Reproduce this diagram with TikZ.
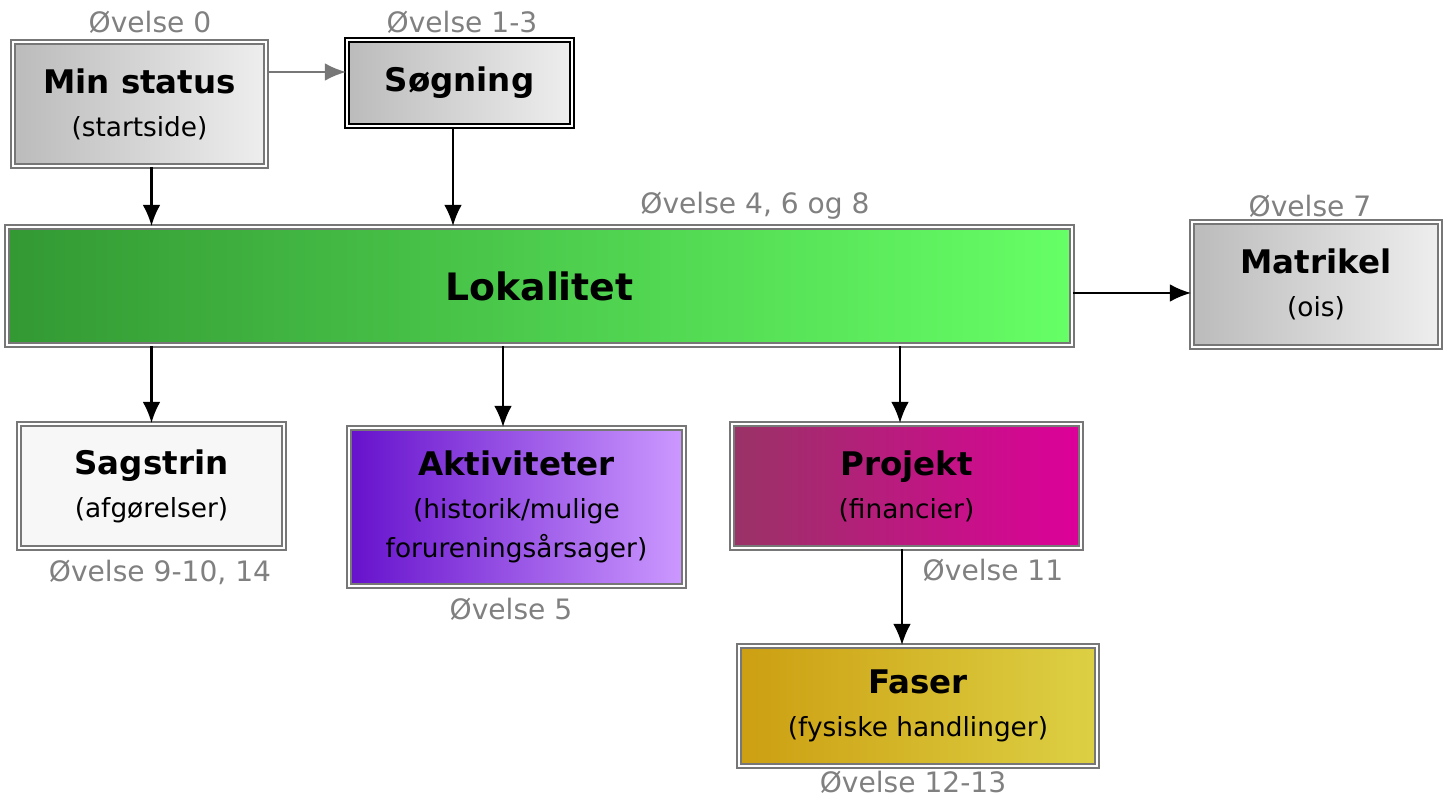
\documentclass[tikz,border=0pt]{standalone}
\usepackage{fontspec}
\setmainfont{DejaVu Sans}
\usetikzlibrary{positioning,arrows.meta}

\definecolor{rimgray}{HTML}{777777}
\definecolor{lblgray}{HTML}{808080}
\definecolor{greyL}{HTML}{BBBBBB}
\definecolor{greyR}{HTML}{EEEEEE}
\definecolor{lokL}{HTML}{339933}
\definecolor{lokR}{HTML}{66FF66}
\definecolor{aktL}{HTML}{6611CC}
\definecolor{aktR}{HTML}{CC99FF}
\definecolor{projL}{HTML}{993366}
\definecolor{projR}{HTML}{DD0099}
\definecolor{fasL}{HTML}{CC9F11}
\definecolor{fasR}{HTML}{DDD044}

\newcommand{\boxtitle}[1]{{\bfseries\fontsize{18.5}{23}\selectfont #1}}

\tikzset{
  infobox/.style={rectangle, draw=rimgray, line width=1.1pt, double=white,
    double distance=1.1pt, inner sep=0pt, align=center, text=black,
    font=\fontsize{15}{22.5}\selectfont},
  greybox/.style={infobox, left color=greyL, right color=greyR},
  lbl/.style={text=lblgray, font=\fontsize{16}{19}\selectfont, inner sep=0pt},
  link/.style={-{Latex[length=12pt,width=10pt]}, line width=1.2pt, black}
}

\begin{document}
\begin{tikzpicture}[x=0.02cm, y=-0.02cm]
        \useasboundingbox (0,0) rectangle (1448,803);

        % --- top row ---
        \node[greybox, minimum width=5.06cm, minimum height=2.48cm] (status) at (139.5,104)
            {\boxtitle{Min status}\\[2pt](startside)};
        \node[greybox, draw=black, minimum width=4.5cm, minimum height=1.72cm] (soeg) at (459.5,83)
            {\boxtitle{Søgning}};

        % --- the central box ---
        \node[infobox, left color=lokL, right color=lokR, minimum width=21.3cm, minimum height=2.36cm] (lok) at (539.5,286)
            {\bfseries\fontsize{21.5}{26}\selectfont Lokalitet};
        \node[greybox, minimum width=4.96cm, minimum height=2.5cm] (matr) at (1316,284.5)
            {\boxtitle{Matrikel}\\[2pt](ois)};

        % --- bottom rows ---
        \node[infobox, fill=white!97!black, minimum width=5.3cm, minimum height=2.48cm] (sag) at (151.5,486)
            {\boxtitle{Sagstrin}\\[2pt](afgørelser)};
        \node[infobox, left color=aktL, right color=aktR, minimum width=6.7cm, minimum height=3.16cm] (akt) at (516.5,507)
            {\boxtitle{Aktiviteter}\\[2pt](historik/mulige\\forureningsårsager)};
        \node[infobox, left color=projL, right color=projR, minimum width=6.98cm, minimum height=2.48cm] (proj) at (906.5,486)
            {\boxtitle{Projekt}\\[2pt](financier)};
        \node[infobox, left color=fasL, right color=fasR, minimum width=7.16cm, minimum height=2.4cm] (fas) at (918,706)
            {\boxtitle{Faser}\\[2pt](fysiske handlinger)};

        % --- exercise labels ---
        \node[lbl] (ovStatus) at (150,22) {Øvelse 0};
        \node[lbl] (ovSoeg) at (462,22) {Øvelse 1-3};
        \node[lbl] (ovLok) at (755,206) {Øvelse 4, 6 og 8};
        \node[lbl] (ovMatr) at (1310,206) {Øvelse 7};
        \node[lbl] (ovSag) at (160,572) {Øvelse 9-10, 14};
        \node[lbl] (ovAkt) at (511,609) {Øvelse 5};
        \node[lbl] (ovProj) at (993,570) {Øvelse 11};
        \node[lbl] (ovFas) at (913,782) {Øvelse 12-13};

        % --- connectors ---
        \draw[link, rimgray] ([yshift=0.64cm]status.east) -- ([yshift=0.64cm]status.east -| soeg.west);
        \draw[link] (status.south -| sag.north) -- (lok.north -| sag.north);
        \draw[link] ([xshift=-0.13cm]soeg.south) -- ([xshift=-0.13cm]soeg.south |- lok.north);
        \draw[link] ([yshift=-0.14cm]lok.east) -- ([yshift=-0.14cm]lok.east -| matr.west);
        \draw[link] (lok.south -| sag.north) -- (sag.north);
        \draw[link] ([xshift=-0.27cm]akt.north |- lok.south) -- ([xshift=-0.27cm]akt.north);
        \draw[link] ([xshift=-0.13cm]proj.north |- lok.south) -- ([xshift=-0.13cm]proj.north);
        \draw[link] ([xshift=-0.09cm]proj.south) -- ([xshift=-0.09cm]proj.south |- fas.north);
\end{tikzpicture}
\end{document}
